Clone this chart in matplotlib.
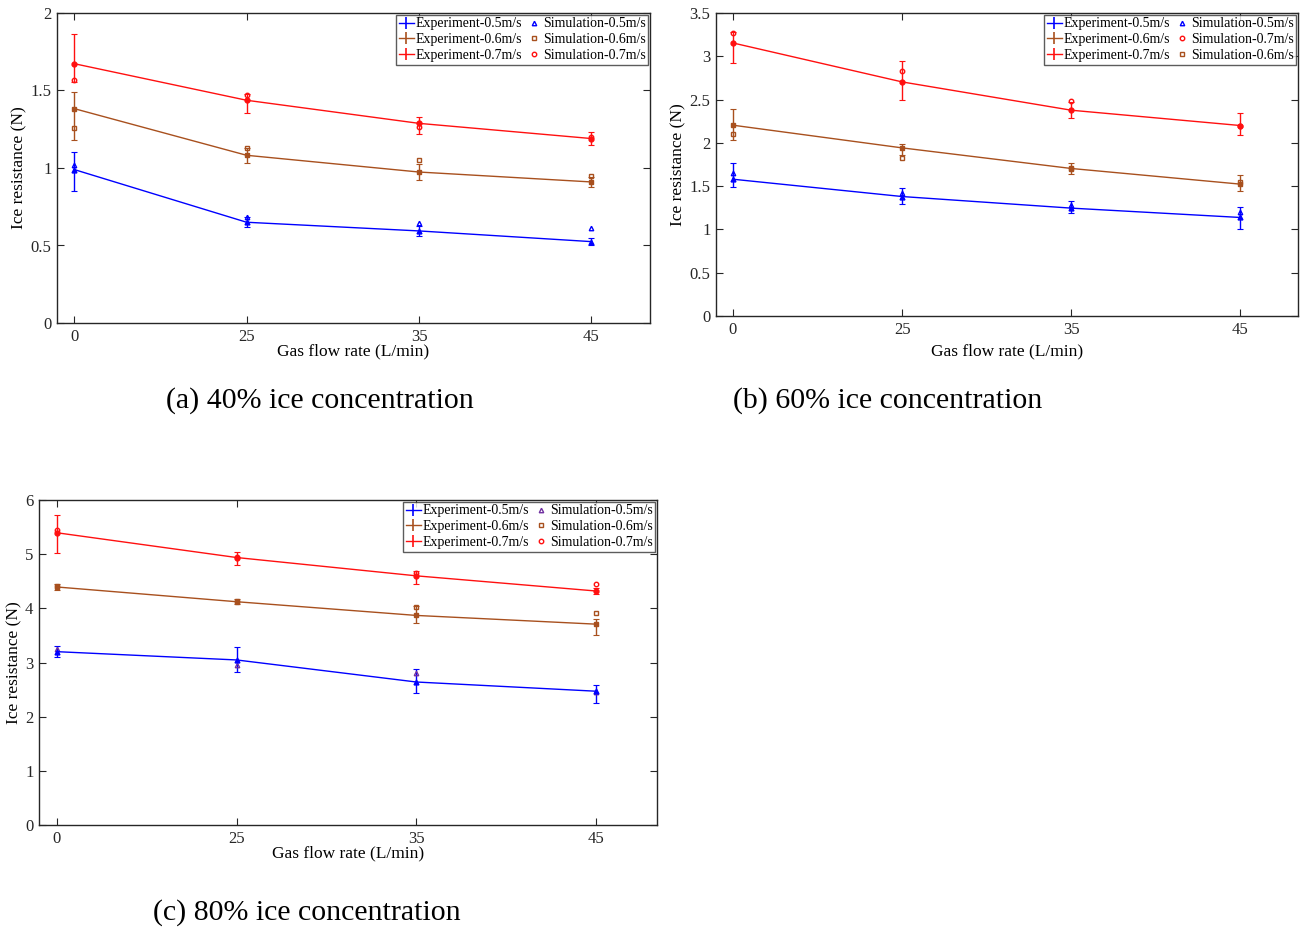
import numpy as np
import matplotlib
matplotlib.use("Agg")
import matplotlib.pyplot as plt
from matplotlib.lines import Line2D

plt.rcParams['font.family'] = ['Liberation Serif', 'DejaVu Serif']
plt.rcParams['mathtext.fontset'] = 'stix'

# gas flow rates (L/min), drawn as evenly spaced categories
flow_labels = ["0", "25", "35", "45"]
xpos = np.arange(1, 5)

# (a) 40% ice concentration
exp_a_05 = [0.99, 0.65, 0.594, 0.525]
exp_a_05_lo = [0.14, 0.03, 0.035, 0.025]
exp_a_05_hi = [0.11, 0.035, 0.035, 0.025]
sim_a_05 = [1.02, 0.684, 0.645, 0.61]
exp_a_06 = [1.383, 1.082, 0.974, 0.91]
exp_a_06_lo = [0.2, 0.05, 0.05, 0.03]
exp_a_06_hi = [0.105, 0.05, 0.05, 0.03]
sim_a_06 = [1.26, 1.13, 1.05, 0.95]
exp_a_07 = [1.673, 1.437, 1.288, 1.19]
exp_a_07_lo = [0.12, 0.08, 0.07, 0.04]
exp_a_07_hi = [0.19, 0.04, 0.04, 0.045]
sim_a_07 = [1.57, 1.47, 1.265, 1.2]

# (b) 60% ice concentration
exp_b_05 = [1.58, 1.38, 1.246, 1.138]
exp_b_05_lo = [0.095, 0.09, 0.06, 0.13]
exp_b_05_hi = [0.19, 0.095, 0.085, 0.12]
sim_b_05 = [1.65, 1.423, 1.28, 1.204]
exp_b_06 = [2.204, 1.942, 1.704, 1.523]
exp_b_06_lo = [0.17, 0.085, 0.06, 0.08]
exp_b_06_hi = [0.19, 0.045, 0.065, 0.1]
sim_b_06 = [2.1, 1.83, 1.70, 1.55]
exp_b_07 = [3.154, 2.704, 2.377, 2.2]
exp_b_07_lo = [0.23, 0.21, 0.09, 0.11]
exp_b_07_hi = [0.13, 0.24, 0.095, 0.15]
sim_b_07 = [3.27, 2.827, 2.485, 2.19]

# (c) 80% ice concentration
exp_c_05 = [3.20, 3.047, 2.64, 2.47]
exp_c_05_lo = [0.1, 0.22, 0.21, 0.21]
exp_c_05_hi = [0.11, 0.23, 0.24, 0.11]
sim_c_05 = [3.245, 2.96, 2.80, 2.45]
exp_c_06 = [4.394, 4.122, 3.869, 3.708]
exp_c_06_lo = [0.05, 0.04, 0.14, 0.2]
exp_c_06_hi = [0.06, 0.05, 0.17, 0.09]
sim_c_06 = [4.42, 4.14, 4.017, 3.91]
exp_c_07 = [5.395, 4.938, 4.60, 4.32]
exp_c_07_lo = [0.37, 0.13, 0.15, 0.05]
exp_c_07_hi = [0.33, 0.11, 0.085, 0.06]
sim_c_07 = [5.44, 4.95, 4.654, 4.444]

C_BLUE = "#0000FF"
C_BROWN = "#A8501E"
C_RED = "#FF1010"
C_PURPLE = "#7030A0"


def draw_panel(ax, exps, sims, ymax, ystep, yticklabels, sim_order, sim05_color, xlabelpad):
    colors = [C_BLUE, C_BROWN, C_RED]
    markers = ["^", "s", "o"]
    speeds = ["0.5", "0.6", "0.7"]
    handles_exp = []
    for (y, lo, hi), c, m, s in zip(exps, colors, markers, speeds):
        ax.errorbar(xpos, y, yerr=[lo, hi], color=c, lw=1.0, elinewidth=1.0,
                    capsize=2, capthick=0.8, marker=m, ms=3.5, mfc=c, mec=c)
        # legend entry: line crossed by a short error bar
        handles_exp.append(Line2D([], [], color=c, lw=1.0, marker="|", ms=8,
                                  mew=1.2, label="Experiment-" + s + "m/s"))
    handles_sim = {}
    for y, c, m, s in zip(sims, colors, markers, speeds):
        if s == "0.5":
            c = sim05_color
        h, = ax.plot(xpos, y, ls="none", marker=m, ms=3.2, mfc="none", mec=c,
                     mew=1.0, label="Simulation-" + s + "m/s")
        handles_sim[s] = h
    handles = handles_exp + [handles_sim[s] for s in sim_order]
    labels = [h.get_label() for h in handles]
    leg = ax.legend(handles, labels, ncol=2, loc="upper right", fontsize=10,
                    frameon=True, fancybox=False, edgecolor="#333333",
                    borderaxespad=0.12, borderpad=0.2, labelspacing=0.2,
                    handlelength=1.1, handletextpad=0.1, columnspacing=0.3,
                    markerscale=1.0, numpoints=1)
    leg.get_frame().set_linewidth(1.0)

    ax.set_xlim(0.9, 4.34)
    ax.set_ylim(0, ymax)
    ax.set_xticks(xpos)
    ax.set_xticklabels(flow_labels)
    yt = np.arange(0, ymax + 1e-9, ystep)
    ax.set_yticks(yt)
    ax.set_yticklabels(yticklabels)
    ax.tick_params(direction="in", top=True, right=True, labelsize=12,
                   length=5, width=0.8, pad=4, colors="#262626")
    for sp in ax.spines.values():
        sp.set_linewidth(1.0)
        sp.set_color("#262626")
    ax.set_xlabel("Gas flow rate (L/min)", fontsize=12.5, labelpad=xlabelpad)
    ax.set_ylabel("Ice resistance (N)", fontsize=12.5, labelpad=2)


W, H = 1309, 930
fig = plt.figure(figsize=(W / 100, H / 100), dpi=100)


def px_axes(left, right, top, bottom):
    return fig.add_axes([left / W, 1 - bottom / H, (right - left) / W, (bottom - top) / H])


ax_a = px_axes(57, 650, 13, 323)
draw_panel(ax_a,
           [(exp_a_05, exp_a_05_lo, exp_a_05_hi),
            (exp_a_06, exp_a_06_lo, exp_a_06_hi),
            (exp_a_07, exp_a_07_lo, exp_a_07_hi)],
           [sim_a_05, sim_a_06, sim_a_07],
           2, 0.5, ["0", "0.5", "1", "1.5", "2"], ["0.5", "0.6", "0.7"], C_BLUE, -1)

ax_b = px_axes(716, 1298, 13, 316)
draw_panel(ax_b,
           [(exp_b_05, exp_b_05_lo, exp_b_05_hi),
            (exp_b_06, exp_b_06_lo, exp_b_06_hi),
            (exp_b_07, exp_b_07_lo, exp_b_07_hi)],
           [sim_b_05, sim_b_06, sim_b_07],
           3.5, 0.5, ["0", "0.5", "1", "1.5", "2", "2.5", "3", "3.5"],
           ["0.5", "0.7", "0.6"], C_BLUE, 4)

ax_c = px_axes(39, 657, 500, 825)
draw_panel(ax_c,
           [(exp_c_05, exp_c_05_lo, exp_c_05_hi),
            (exp_c_06, exp_c_06_lo, exp_c_06_hi),
            (exp_c_07, exp_c_07_lo, exp_c_07_hi)],
           [sim_c_05, sim_c_06, sim_c_07],
           6, 1, ["0", "1", "2", "3", "4", "5", "6"], ["0.5", "0.6", "0.7"], C_PURPLE, -1)

# panel captions
fig.text(320 / W, 1 - 401 / H, "(a) 40% ice concentration", fontsize=21.5,
         ha="center", va="center")
fig.text(888 / W, 1 - 401 / H, "(b) 60% ice concentration", fontsize=21.5,
         ha="center", va="center")
fig.text(307 / W, 1 - 913 / H, "(c) 80% ice concentration", fontsize=21.5,
         ha="center", va="center")

fig.savefig("out.png", dpi=100)
